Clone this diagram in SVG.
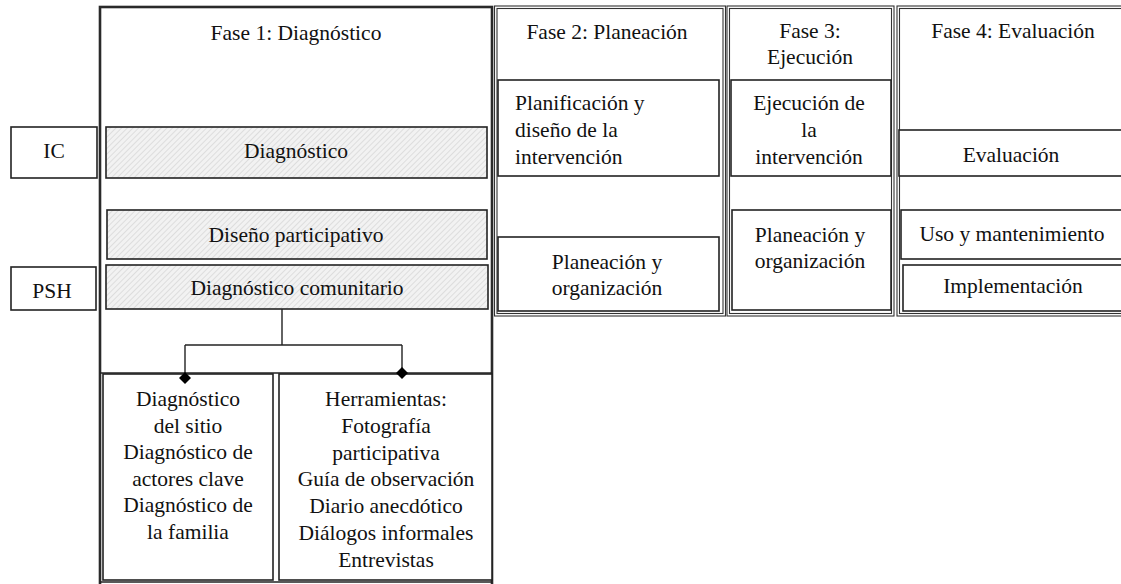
<svg xmlns="http://www.w3.org/2000/svg" width="1121" height="584" viewBox="0 0 1121 584">
<style>
text{font-family:'Liberation Serif','Times New Roman',Times,serif;font-size:21.5px;fill:#111;}
.c{text-anchor:middle;}
.box{fill:#fff;stroke:#222;stroke-width:1.6;}
.hat{fill:url(#hatch);stroke:#222;stroke-width:1.6;}
.col{fill:none;stroke:#333;stroke-width:1.1;}
.frame{fill:none;stroke:#2a2a2a;stroke-width:2.6;}
.conn{fill:none;stroke:#222;stroke-width:1.4;}
</style>
<defs>
<pattern id="hatch" patternUnits="userSpaceOnUse" width="4" height="4" patternTransform="rotate(45)">
<rect width="4" height="4" fill="#f2f2f2"/>
<line x1="0" y1="0" x2="0" y2="4" stroke="#d4d4d4" stroke-width="1.4"/>
</pattern>
<marker id="dia" viewBox="0 0 12 12" refX="6" refY="6" markerWidth="12" markerHeight="12" markerUnits="userSpaceOnUse" orient="auto">
<path d="M6 0 L12 6 L6 12 L0 6 Z" fill="#000"/>
</marker>
</defs>
<rect width="1121" height="584" fill="#fff"/>

<g id="fase1">
<rect class="frame" x="100" y="7" width="392" height="620"/>
<line x1="100" y1="373" x2="492" y2="373" stroke="#222" stroke-width="1.6"/>
<line x1="100" y1="582" x2="492" y2="582" stroke="#222" stroke-width="1.6"/>
<text class="c" x="296" y="40">Fase 1: Diagn&#243;stico</text>
</g>

<g id="fase2">
<rect class="col" x="494.5" y="6" width="231" height="310"/>
<rect class="col" x="497" y="8.5" width="226" height="305"/>
<text class="c" x="607" y="39">Fase 2: Planeaci&#243;n</text>
</g>

<g id="fase3">
<rect class="col" x="727" y="6" width="167" height="310"/>
<rect class="col" x="729.5" y="8.5" width="162" height="305"/>
<text class="c" x="810" y="38">Fase 3:</text>
<text class="c" x="810" y="64">Ejecuci&#243;n</text>
</g>

<g id="fase4">
<rect class="col" x="897" y="6" width="240" height="310"/>
<rect class="col" x="899.5" y="8.5" width="240" height="305"/>
<text class="c" x="1013" y="38">Fase 4: Evaluaci&#243;n</text>
</g>

<g id="ic">
<rect class="box" x="11" y="127" width="86" height="51"/>
<text class="c" x="54" y="158">IC</text>
</g>
<g id="psh">
<rect class="box" x="11" y="267" width="85" height="43"/>
<text class="c" x="52" y="298">PSH</text>
</g>

<g id="diagnostico">
<rect class="hat" x="106" y="127" width="381" height="51"/>
<text class="c" x="296" y="158">Diagn&#243;stico</text>
</g>
<g id="diseno">
<rect class="hat" x="107" y="210" width="380" height="49"/>
<text class="c" x="296" y="242">Dise&#241;o participativo</text>
</g>
<g id="comunitario">
<rect class="hat" x="106" y="265" width="382" height="44"/>
<text class="c" x="297" y="295">Diagn&#243;stico comunitario</text>
</g>

<g id="sitio">
<rect class="box" x="103" y="374" width="170" height="206"/>
<text class="c" x="188" y="406">Diagn&#243;stico</text>
<text class="c" x="188" y="432.5">del sitio</text>
<text class="c" x="188" y="459">Diagn&#243;stico de</text>
<text class="c" x="188" y="485.5">actores clave</text>
<text class="c" x="188" y="512">Diagn&#243;stico de</text>
<text class="c" x="188" y="538.5">la familia</text>
</g>
<g id="herramientas">
<rect class="box" x="279" y="374" width="213" height="206"/>
<text class="c" x="386" y="406">Herramientas:</text>
<text class="c" x="386" y="432.8">Fotograf&#237;a</text>
<text class="c" x="386" y="459.6">participativa</text>
<text class="c" x="386" y="486.4">Gu&#237;a de observaci&#243;n</text>
<text class="c" x="386" y="513.2">Diario anecd&#243;tico</text>
<text class="c" x="386" y="540">Di&#225;logos informales</text>
<text class="c" x="386" y="566.8">Entrevistas</text>
</g>

<g id="planificacion">
<rect class="box" x="498" y="80" width="221" height="96"/>
<text x="515" y="110">Planificaci&#243;n y</text>
<text x="515" y="137">dise&#241;o de la</text>
<text x="515" y="164">intervenci&#243;n</text>
</g>
<g id="planeacion2">
<rect class="box" x="498" y="237" width="221" height="74"/>
<text class="c" x="607" y="269">Planeaci&#243;n y</text>
<text class="c" x="607" y="295">organizaci&#243;n</text>
</g>

<g id="ejecucion">
<rect class="box" x="731" y="80" width="160" height="96"/>
<text class="c" x="809" y="110">Ejecuci&#243;n de</text>
<text class="c" x="809" y="137">la</text>
<text class="c" x="809" y="164">intervenci&#243;n</text>
</g>
<g id="planeacion3">
<rect class="box" x="732" y="210" width="159" height="100"/>
<text class="c" x="810" y="242">Planeaci&#243;n y</text>
<text class="c" x="810" y="268">organizaci&#243;n</text>
</g>

<g id="evaluacion">
<rect class="box" x="899" y="130" width="240" height="46" stroke-width="2"/>
<text class="c" x="1011" y="162">Evaluaci&#243;n</text>
</g>
<g id="uso">
<rect class="box" x="901" y="210" width="240" height="49"/>
<text class="c" x="1012" y="241">Uso y mantenimiento</text>
</g>
<g id="implementacion">
<rect class="box" x="903" y="265" width="240" height="46"/>
<text class="c" x="1013" y="293">Implementaci&#243;n</text>
</g>

<g id="connectors">
<polyline class="conn" points="282,309 282,345"/>
<polyline class="conn" points="185,345 402,345"/>
<polyline class="conn" points="185,345 185,378" marker-end="url(#dia)"/>
<polyline class="conn" points="402,345 402,373" marker-end="url(#dia)"/>
</g>
</svg>
